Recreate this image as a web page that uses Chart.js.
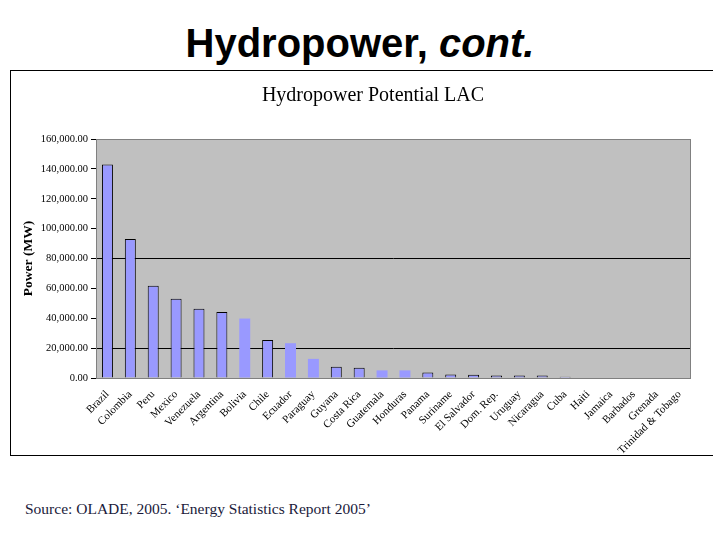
<!DOCTYPE html>
<html>
<head>
<meta charset="utf-8">
<script src="https://cdn.jsdelivr.net/npm/chart.js@4"></script>
<style>
  body { margin: 0; width: 720px; height: 540px; background: #fff; position: relative; overflow: hidden; }
  #title { position: absolute; left: 0; width: 720px; top: 21px; text-align: center;
           font: bold 40px "Liberation Sans", Arial, sans-serif; color: #000; margin: 0; line-height: 44px; }
  #box { position: absolute; left: 10px; top: 70px; width: 702px; height: 384px;
         border-top: 1px solid #000; border-left: 1px solid #000; border-bottom: 1px solid #000; }
  #barChart { position: absolute; left: 0; top: 0; }
  #source { position: absolute; left: 25px; top: 500px; font: 15.5px "Liberation Serif", serif; color: #1a1a3a; }
</style>
</head>
<body>
<h1 id="title">Hydropower, <i>cont.</i></h1>
<div id="box"><canvas id="barChart" width="724" height="384"></canvas></div>
<div id="source">Source: OLADE, 2005. ‘Energy Statistics Report 2005’</div>
<script>
// countries, largest potential first
var countries = ['Brazil', 'Colombia', 'Peru', 'Mexico', 'Venezuela', 'Argentina', 'Bolivia', 'Chile',
    'Ecuador', 'Paraguay', 'Guyana', 'Costa Rica', 'Guatemala', 'Honduras', 'Panama', 'Suriname',
    'El Salvador', 'Dom. Rep.', 'Uruguay', 'Nicaragua', 'Cuba', 'Haiti', 'Jamaica', 'Barbados',
    'Grenada', 'Trinidad & Tobago'];
// hydropower potential in MW
var potential = [143000, 93000, 61800, 53000, 46400, 44200, 39800, 25400,
    23300, 12800, 7500, 6800, 5100, 5100, 3600, 2300,
    2200, 1600, 1600, 1600, 900, 0, 0, 0,
    0, 0];
var yTicks = [0, 20000, 40000, 60000, 80000, 100000, 120000, 140000, 160000];
var gridValues = [20000, 80000];

// some bars show no outline in the original
var noOutline = ['Bolivia', 'Ecuador', 'Paraguay', 'Guatemala', 'Honduras'];

var plotBackground = {
    id: 'plotBackground',
    beforeDraw: function(chart) {
        var a = chart.chartArea, c = chart.ctx;
        c.save();
        c.fillStyle = '#c0c0c0';
        c.fillRect(a.left, a.top, a.right - a.left, a.bottom - a.top);
        c.restore();
    },
    afterDatasetsDraw: function(chart) {
        var a = chart.chartArea, c = chart.ctx;
        c.save();
        c.strokeStyle = '#808080';
        c.lineWidth = 1;
        c.strokeRect(a.left + 0.5, a.top + 0.5, a.right - a.left - 1, a.bottom - a.top);
        c.restore();
    }
};

var ctx = document.getElementById('barChart').getContext('2d');
var myChart = new Chart(ctx, {
    type: 'bar',
    data: {
        labels: countries,
        datasets: [{
            label: 'Power (MW)',
            data: potential,
            backgroundColor: '#9999ff',
            borderColor: '#000',
            borderWidth: countries.map(function(c) { return noOutline.indexOf(c) >= 0 ? 0 : 1; }),
            barPercentage: 0.48,
            categoryPercentage: 1
        }]
    },
    plugins: [plotBackground],
    options: {
        responsive: false,
        animation: false,
        layout: { padding: 0 },
        plugins: {
            legend: { display: false },
            tooltip: { enabled: false },
            title: {
                display: true,
                text: 'Hydropower Potential LAC',
                color: '#000',
                font: { family: 'Liberation Serif', size: 20, weight: 'normal' },
                padding: { top: 13, bottom: 31 }
            }
        },
        scales: {
            x: {
                grid: { display: false },
                border: { display: false },
                ticks: {
                    autoSkip: false,
                    minRotation: 45,
                    maxRotation: 45,
                    padding: 2,
                    color: '#000',
                    font: { family: 'Liberation Serif', size: 11 }
                },
                afterFit: function(scale) { scale.height = 77; }
            },
            y: {
                min: 0,
                max: 160000,
                afterBuildTicks: function(scale) {
                    scale.ticks = yTicks.map(function(v) { return { value: v }; });
                },
                border: { display: false },
                grid: {
                    color: function(c) {
                        return gridValues.indexOf(c.tick.value) >= 0 ? '#000' : 'rgba(0,0,0,0)';
                    },
                    tickColor: '#000',
                    tickLength: 5,
                    lineWidth: 1
                },
                ticks: {
                    padding: 3,
                    color: '#000',
                    font: { family: 'Liberation Serif', size: 10.5 },
                    callback: function(v) {
                        return v.toLocaleString('en-US', { minimumFractionDigits: 2, maximumFractionDigits: 2 });
                    }
                },
                title: {
                    display: true,
                    text: 'Power (MW)',
                    color: '#000',
                    font: { family: 'Liberation Serif', size: 13.5, weight: 'bold' },
                    padding: { top: 9, bottom: 0 }
                },
                afterFit: function(scale) { scale.width = 85; }
            },
            // empty right-hand space, keeps the plot where it is in the original
            spacer: {
                type: 'linear',
                position: 'right',
                display: true,
                grid: { display: false },
                border: { display: false },
                ticks: { display: false },
                afterFit: function(scale) { scale.width = 44; }
            }
        }
    }
});
</script>
</body>
</html>
